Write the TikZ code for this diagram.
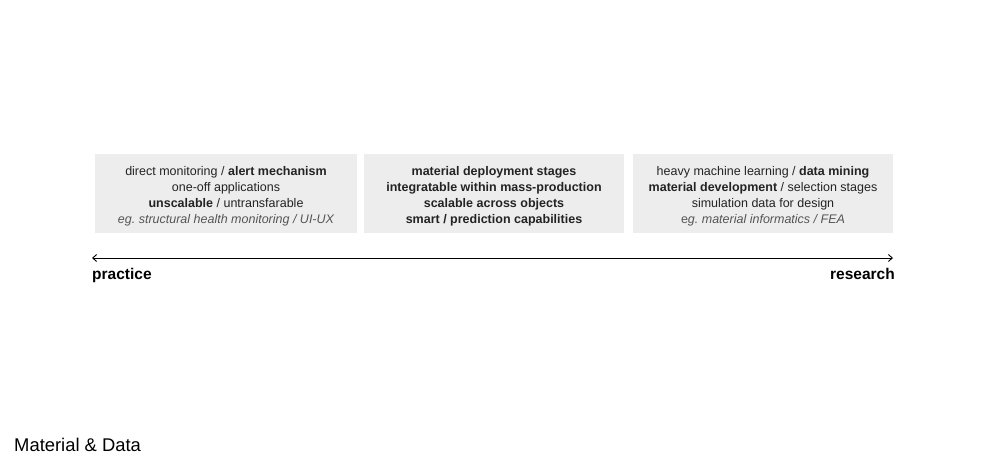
\documentclass[tikz,border=0pt]{standalone}
\usepackage{fontspec}
\setmainfont{Liberation Sans}
\usetikzlibrary{arrows.meta}
\frenchspacing
\definecolor{boxgray}{RGB}{237,237,237}
\definecolor{txtgray}{RGB}{35,35,35}
\definecolor{egray}{RGB}{85,85,85}
\newcommand{\topstrut}{\rule{0pt}{15pt}}
\tikzset{
  infobox/.style={fill=boxgray, draw=none, minimum width=260pt, minimum height=79pt,
    inner sep=0pt, align=center, text=txtgray,
    font=\fontsize{12.5}{16}\selectfont},
  axislabel/.style={inner sep=0pt, font=\fontsize{15.5}{18}\selectfont\bfseries}
}
\begin{document}
\begin{tikzpicture}[x=1pt,y=1pt,yscale=-1,xscale=1]
\useasboundingbox (0,0) rectangle (990,468);

% Boxes
\node [infobox, minimum width=262pt] (mon) at (226,193.5)
  {\topstrut direct monitoring / \textbf{alert mechanism}\\
   one-off applications\\
   \textbf{unscalable} / untransfarable\\
   \textcolor{egray}{\itshape eg. structural health monitoring / UI-UX}};
\node [infobox] (dep) at (494,193.5)
  {\topstrut\bfseries material deployment stages\\
   \bfseries integratable within mass-production\\
   \bfseries scalable across objects\\
   \bfseries smart / prediction capabilities};
\node [infobox] (ml) at (763,193.5)
  {\topstrut heavy machine learning / \textbf{data mining}\\
   \textbf{material development} / selection stages\\
   simulation data for design\\
   \textcolor{egray}{e\itshape g. material informatics / FEA}};

% Axis
\coordinate (left) at (92,258);
\coordinate (right) at (893,258);
\draw [{Straight Barb[length=4pt,width=7pt]}-{Straight Barb[length=4pt,width=7pt]}, line width=0.9pt] (left) -- (right);

% Text Node
\node [axislabel, anchor=north west] (prac) at (92,268) {practice};
\node [axislabel, anchor=north east] (res) at (895,268) {research};
\node [inner sep=0pt, anchor=west, font=\fontsize{18.4}{22}\selectfont] (title) at (14,445) {Material \& Data};

\end{tikzpicture}
\end{document}
